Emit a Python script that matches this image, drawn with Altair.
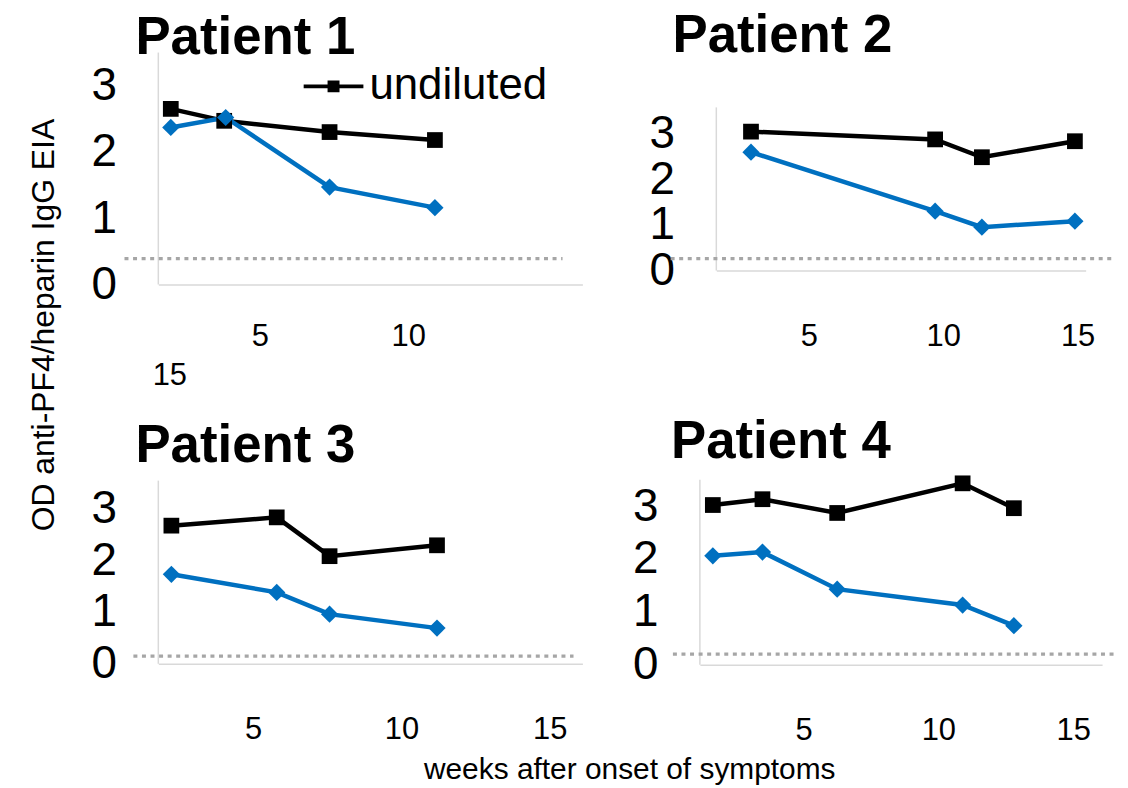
import altair as alt
import pandas as pd

FONT = "Liberation Sans"
BLUE = "#0070c0"
AXIS_GREY = "#d9d9d9"
SERIES = ["undiluted", "diluted"]

# ---- data (weeks after onset, OD) ----
p1_weeks_und = [2.0, 3.8, 7.35, 10.9]
p1_od_und = [2.65, 2.47, 2.30, 2.18]
p1_weeks_dil = [2.0, 3.85, 7.35, 10.9]
p1_od_dil = [2.37, 2.52, 1.47, 1.16]

p2_weeks_und = [2.85, 9.7, 11.44, 14.9]
p2_od_und = [3.04, 2.87, 2.48, 2.83]
p2_weeks_dil = [2.85, 9.7, 11.44, 14.9]
p2_od_dil = [2.59, 1.30, 0.95, 1.08]

p3_weeks_und = [2.25, 5.8, 7.58, 11.2]
p3_od_und = [2.67, 2.83, 2.08, 2.29]
p3_weeks_dil = [2.25, 5.8, 7.58, 11.2]
p3_od_dil = [1.73, 1.38, 0.96, 0.69]

p4_weeks_und = [1.64, 3.48, 6.25, 10.9, 12.8]
p4_od_und = [3.02, 3.13, 2.87, 3.43, 2.96]
p4_weeks_dil = [1.64, 3.48, 6.25, 10.9, 12.8]
p4_od_dil = [2.06, 2.13, 1.43, 1.13, 0.74]

# dotted cut-off line of each panel: level and extent (weeks)
cutoff_level = [0.39, 0.26, 0.15, 0.20]
cutoff_from = [0.44, -0.14, 0.97, 0.16]
cutoff_to = [15.2, 16.41, 15.8, 16.66]

titles = ["Patient 1", "Patient 2", "Patient 3", "Patient 4"]
y_ticks = [0, 1, 2, 3]
x_ticks = [5, 10, 15]
y_title = "OD anti-PF4/heparin  IgG EIA"
x_title = "weeks after onset of symptoms"

# panel geometry
x_domains = [[1.58, 15.87], [1.56, 15.3], [1.81, 16.1], [1.16, 16.07]]
y_domains = [[0, 3.5], [0, 4.77], [0, 3.54], [0, 3.5]]
y_axis_top = [3.5, 3.57, 3.54, 3.5]
widths = [426, 371, 426, 404]
heights = [233, 219, 184, 186]
title_offsets = [-55.5, -52.5, -35.5, -36.5]
title_dx = [-23, -44, -23, -29]
xlab_pad = [37, 51, 51, 51]

legend_path = "M-1,-0.06H1V0.06H-1Z M-0.2,-0.2H0.2V0.2H-0.2Z"


def make_df(wu, ou, wd, od):
    return pd.DataFrame({
        "week": wu + wd,
        "od": ou + od,
        "series": ["undiluted"] * len(wu) + ["diluted"] * len(wd),
    })


def panel(i, df, legend=False):
    xs = alt.Scale(domain=x_domains[i], nice=False, zero=False)
    ys = alt.Scale(domain=y_domains[i], nice=False, zero=False)
    lab_offset = 0
    lab_pad = xlab_pad[i]
    if i == 0:
        lab_offset = {"condition": {"test": "datum.value === 15", "value": -389}, "value": 0}
        lab_pad = {"condition": {"test": "datum.value === 15", "value": xlab_pad[i] + 39}, "value": xlab_pad[i]}
    xaxis = alt.Axis(values=x_ticks, title=None, grid=False, ticks=False, tickSize=0,
                     domainColor=AXIS_GREY, domainWidth=1.5, labelFont=FONT,
                     labelFontSize=31, labelColor="black", labelPadding=lab_pad,
                     labelOffset=lab_offset, labelFlush=False, labelOverlap=False)
    yaxis = alt.Axis(values=y_ticks, title=None, grid=False, ticks=False, tickSize=0,
                     domain=False, labelFont=FONT,
                     labelFontSize=46, labelColor="black", labelPadding=42,
                     labelFlush=False, labelOverlap=False, labelBaseline="middle")
    # vertical axis line (drawn as a rule so that it can stop at the panel's visible top)
    ax = pd.DataFrame({"x": [x_domains[i][0]], "y1": [0], "y2": [y_axis_top[i]]})
    axis_line = alt.Chart(ax).mark_rule(color=AXIS_GREY, strokeWidth=1.5).encode(
        x=alt.X("x:Q", scale=xs, axis=xaxis),
        y=alt.Y("y1:Q", scale=ys, axis=yaxis), y2="y2:Q")
    cut = pd.DataFrame({"w1": [cutoff_from[i]], "w2": [cutoff_to[i]], "lvl": [cutoff_level[i]]})
    rule = alt.Chart(cut).mark_rule(color="#a6a6a6", strokeWidth=3.3, strokeDash=[4, 4.6]).encode(
        x=alt.X("w1:Q", scale=xs, axis=xaxis), x2="w2:Q",
        y=alt.Y("lvl:Q", scale=ys, axis=yaxis))
    base = alt.Chart(df)
    lines = base.mark_line(strokeWidth=4.5).encode(
        x=alt.X("week:Q", scale=xs, axis=xaxis),
        y=alt.Y("od:Q", scale=ys, axis=yaxis),
        detail="series:N",
        color=alt.condition(alt.datum.series == "undiluted", alt.value("black"), alt.value(BLUE)))
    if legend:
        leg = alt.Legend(values=["undiluted"], orient="none", legendX=146, legendY=4, title=None,
                         labelFont=FONT, labelFontSize=44, labelColor="black", labelOffset=6,
                         labelLimit=0, symbolType=legend_path, symbolSize=3600,
                         symbolStrokeWidth=0, symbolOpacity=1, padding=0)
    else:
        leg = None
    cscale = alt.Scale(domain=SERIES, range=["black", BLUE])
    squares = base.transform_filter(alt.datum.series == "undiluted").mark_point(
        shape="square", filled=True, size=250, opacity=1).encode(
        x=alt.X("week:Q", scale=xs, axis=xaxis),
        y=alt.Y("od:Q", scale=ys, axis=yaxis),
        color=alt.Color("series:N", scale=cscale, legend=leg))
    diamonds = base.transform_filter(alt.datum.series == "diluted").mark_point(
        shape="diamond", filled=True, size=300, opacity=1).encode(
        x=alt.X("week:Q", scale=xs, axis=xaxis),
        y=alt.Y("od:Q", scale=ys, axis=yaxis),
        color=alt.Color("series:N", scale=cscale, legend=leg))
    return alt.layer(axis_line, rule, lines, squares, diamonds).properties(
        width=widths[i], height=heights[i],
        title=alt.TitleParams(titles[i], anchor="start", frame="group", font=FONT, fontSize=53,
                              fontWeight="bold", color="black", offset=title_offsets[i],
                              dx=title_dx[i], baseline="alphabetic"))


p1 = panel(0, make_df(p1_weeks_und, p1_od_und, p1_weeks_dil, p1_od_dil), legend=True)
p2 = panel(1, make_df(p2_weeks_und, p2_od_und, p2_weeks_dil, p2_od_dil))
p3 = panel(2, make_df(p3_weeks_und, p3_od_und, p3_weeks_dil, p3_od_dil))
p4 = panel(3, make_df(p4_weeks_und, p4_od_und, p4_weeks_dil, p4_od_dil))


def indep(c):
    return c.resolve_scale(color="independent").resolve_legend(color="independent")


col1 = indep(alt.vconcat(p1, p3, spacing=197, bounds="flush"))
col2 = indep(alt.vconcat(p2, p4, spacing=210, bounds="flush", center=True))
grid = indep(alt.hconcat(col1, col2, spacing=50,
                         title=alt.TitleParams(y_title, orient="left", anchor="middle", font=FONT,
                                               fontSize=32, fontWeight="normal", color="black",
                                               offset=30, dx=53)))
chart = indep(alt.vconcat(grid,
                          title=alt.TitleParams(x_title, orient="bottom", anchor="middle", font=FONT,
                                                fontSize=30, fontWeight="normal", color="black",
                                                offset=10, dx=56)))
chart = chart.properties(padding={"left": 20, "top": 0, "right": 0, "bottom": 0},
                         background="white").configure_view(stroke=None)

chart.save("out.html", embed_options={"renderer": "svg", "actions": False})
